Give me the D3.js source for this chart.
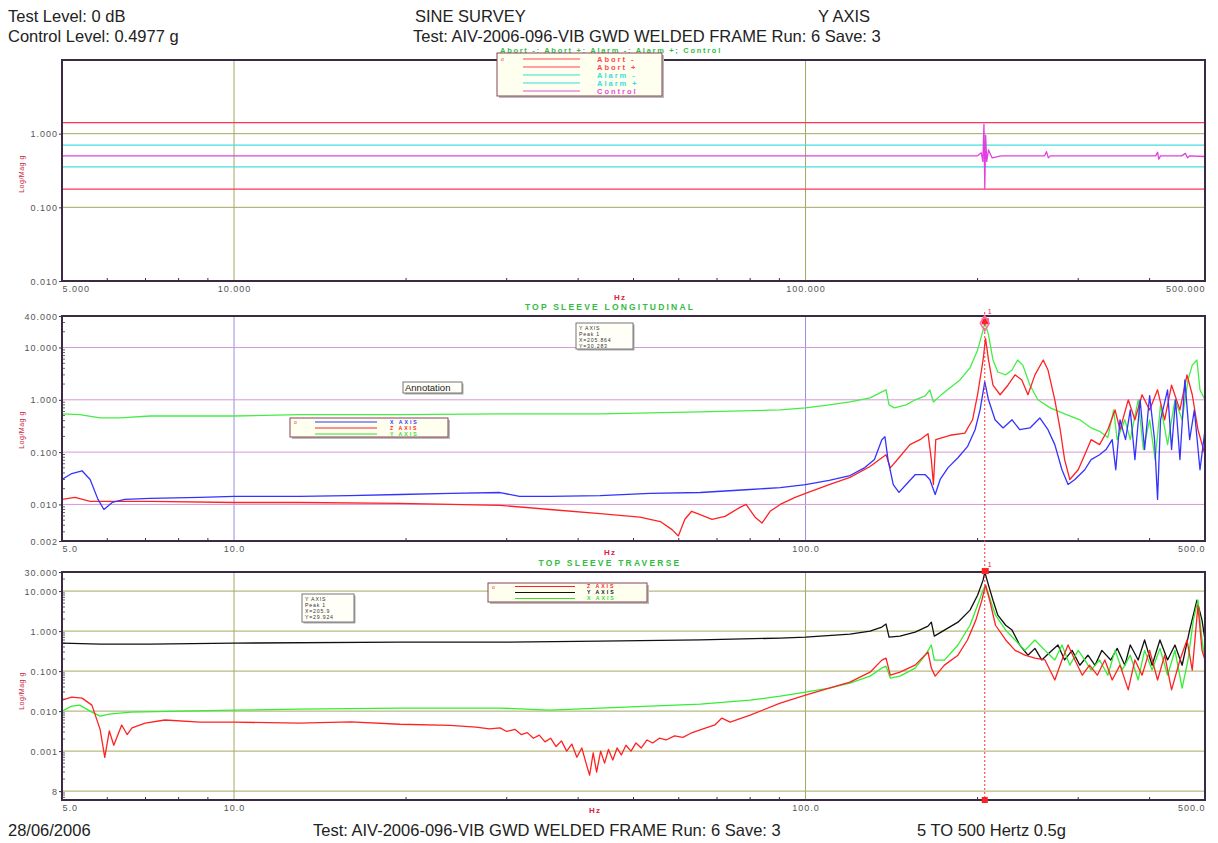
<!DOCTYPE html>
<html><head><meta charset="utf-8">
<script src="https://cdn.jsdelivr.net/npm/d3@7"></script>
<style>
body{margin:0;background:#fff}
text{font-family:"Liberation Sans",Arial,sans-serif}
.sm{font-size:9px;letter-spacing:1px;fill:#555}
</style>
</head><body>
<svg id="c" width="1218" height="843"></svg>
<script>
// ---- data: [frequency Hz, amplitude g] ----
const ctrlLimits = { abortPlus: 1.41, abortMinus: 0.177, alarmPlus: 0.70, alarmMinus: 0.355 };
const control = [[5,0.5],[20,0.5],[60,0.5],[100,0.5],[150,0.5],[200,0.5],[203,0.55],[204.3,0.42],[205.2,1.35],[205.9,0.18],[206.6,0.95],[207.5,0.42],[209,0.6],[212,0.47],[220,0.5],[262,0.5],[264,0.57],[266,0.47],[268,0.5],[410,0.5],[413,0.56],[415,0.45],[418,0.5],[455,0.5],[462,0.54],[466,0.47],[470,0.5],[500,0.49]];

const longX = [[5,0.030],[5.2,0.039],[5.42,0.044],[5.6,0.030],[5.78,0.0125],[5.92,0.008],[6.12,0.0109],[6.44,0.0125],[7.13,0.013],[8.72,0.0136],[10,0.0142],[13,0.0142],[15.9,0.0148],[19.5,0.0155],[23.9,0.0162],[29.2,0.0169],[31.6,0.0142],[35.7,0.0142],[43.7,0.0148],[53.4,0.0162],[65.4,0.0169],[80,0.0193],[90.3,0.021],[100,0.024],[110,0.0287],[119.6,0.0357],[127,0.0506],[132,0.072],[136,0.173],[137.7,0.198],[139.4,0.072],[142.4,0.024],[145.7,0.017],[150,0.024],[155.5,0.037],[162,0.037],[165,0.030],[168.6,0.0155],[172,0.030],[177.6,0.0506],[184.8,0.078],[192,0.127],[198,0.268],[202,0.64],[205.9,2.2],[209,1.0],[214.6,0.415],[221.6,0.29],[229.8,0.415],[237,0.268],[247,0.29],[257,0.45],[265.6,0.268],[273,0.139],[281,0.046],[288,0.024],[296,0.030],[308,0.046],[316,0.072],[327,0.089],[335.6,0.112],[344,0.173],[349,0.046],[355,0.415],[363,0.173],[370,0.64],[377,0.072],[385,1.0],[392,0.112],[400,1.2],[408,0.173],[413,0.0125],[418,0.415],[430,1.55],[437,0.112],[444,1.0],[452,0.072],[461,2.4],[470,0.173],[479,0.64],[490,0.046],[500,0.268]];

const longZ = [[5,0.0125],[5.27,0.0136],[5.6,0.0114],[6.07,0.0114],[7.13,0.0114],[10,0.0109],[13,0.0109],[19.5,0.0105],[23.9,0.010],[29.2,0.0096],[35.7,0.008],[43.7,0.0067],[51.3,0.0057],[55.7,0.0047],[58.4,0.0033],[59.9,0.0025],[61.5,0.0052],[63.2,0.0074],[65.4,0.0064],[68.6,0.0052],[72.3,0.0059],[76.8,0.0088],[78.7,0.010],[81.6,0.0057],[83.9,0.0044],[86.7,0.0074],[90.3,0.010],[95.9,0.0136],[100,0.0162],[110,0.024],[119.6,0.033],[129.7,0.053],[136,0.078],[138.3,0.089],[140.7,0.050],[145.7,0.078],[152.3,0.139],[158.6,0.173],[163.8,0.225],[166,0.072],[167.4,0.024],[169,0.173],[179,0.21],[190,0.23],[196,0.415],[200,1.25],[204.5,5.78],[206.5,15],[209,5.78],[212.8,1.9],[219,1.25],[226,1.9],[232.6,3.0],[239,2.4],[245,1.25],[252,3.0],[260.6,5.78],[265.6,3.72],[273,1.0],[279,0.268],[284,0.072],[290,0.030],[300,0.046],[308,0.089],[316,0.173],[327,0.139],[338,0.268],[348,0.64],[355,0.268],[367,1.0],[377,0.415],[388,1.25],[400,0.64],[413,1.55],[425,0.415],[437,1.9],[452,0.64],[465,3.0],[475,1.25],[486,0.268],[500,0.089]];

const longY = [[5,0.54],[5.37,0.52],[5.83,0.45],[6.32,0.45],[7.13,0.49],[8.72,0.49],[10,0.49],[13,0.52],[19.5,0.52],[29.2,0.54],[43.7,0.54],[65.4,0.59],[90.3,0.64],[100,0.70],[110,0.80],[119.6,0.91],[129.7,1.09],[136,1.42],[138.3,1.55],[140,0.80],[143,0.70],[150,0.80],[155.5,1.0],[162,1.19],[165,1.55],[167.4,0.91],[172,1.19],[179,1.7],[186.3,2.4],[194,4.1],[200,8.9],[204.5,21.5],[205.9,30.28],[209,17.4],[212.8,5.78],[217,3.4],[224,3.0],[229.8,3.72],[235,5.78],[240,4.6],[247,1.9],[255,1.0],[268,0.70],[284,0.54],[302,0.415],[316,0.29],[327,0.25],[338,0.19],[346,0.64],[351,0.173],[362,0.415],[370,0.173],[382,1.0],[390,0.112],[400,0.415],[409,0.072],[418,0.8],[430,0.139],[443,1.0],[456,0.415],[467,2.4],[475,4.6],[484,5.78],[490,1.55],[500,1.0]];

const travY = [[5,0.50],[5.83,0.47],[7.13,0.47],[10,0.50],[19.5,0.53],[29.2,0.53],[43.7,0.56],[65.4,0.60],[90.3,0.67],[100,0.71],[119.6,0.84],[129.7,1.0],[136,1.26],[138.3,1.5],[140,0.71],[146.3,0.75],[155.5,0.94],[163.8,1.33],[166,1.67],[168,0.75],[175,1.06],[184.8,1.67],[194,3.35],[200,7.9],[204.5,18.8],[205.9,29.92],[209,14.1],[212.8,5.9],[217,2.5],[224,1.4],[229.8,1.06],[237,0.45],[245,0.25],[252,0.37],[259,0.19],[268,0.30],[276.5,0.45],[284,0.19],[292.7,0.33],[302,0.14],[312,0.25],[321,0.14],[330,0.33],[342,0.19],[351,0.37],[362,0.14],[370,0.45],[382,0.19],[392,0.60],[404,0.14],[417,0.60],[430,0.19],[443,0.45],[456,0.14],[470,1.06],[484,5.9],[494,1.88],[500,0.6]];

const travZ = [[5,0.0188],[5.2,0.0224],[5.42,0.0211],[5.64,0.0141],[5.83,0.0035],[5.94,0.0007],[6.05,0.0032],[6.16,0.0014],[6.36,0.0045],[6.5,0.0026],[6.63,0.0038],[6.99,0.005],[7.57,0.006],[8.72,0.0053],[10,0.0053],[13,0.005],[16,0.0054],[19.5,0.0047],[23.9,0.0044],[26.5,0.004],[28,0.0036],[29.2,0.0038],[30,0.0031],[31,0.0035],[31.8,0.0026],[32.6,0.0029],[33.4,0.0021],[34.2,0.0025],[35,0.0017],[35.8,0.0021],[36.6,0.0013],[37.4,0.0018],[38.2,0.0010],[39,0.0015],[39.8,0.0007],[40.6,0.0012],[41.3,0.0005],[41.9,0.00025],[42.5,0.0009],[43.1,0.0003],[43.8,0.0010],[44.5,0.0005],[45.2,0.0011],[46,0.0006],[46.8,0.0012],[47.6,0.0008],[48.5,0.0014],[49.5,0.0010],[50.5,0.0016],[51.6,0.0012],[52.8,0.0019],[54,0.0016],[55.5,0.0021],[57,0.0019],[59,0.0024],[61,0.0022],[63,0.0028],[65.4,0.0034],[69.4,0.0045],[71.4,0.0067],[73.8,0.0053],[80,0.0079],[90.3,0.0159],[100,0.025],[110,0.0376],[119.6,0.053],[129.7,0.094],[136,0.188],[138.3,0.21],[140.7,0.079],[146.3,0.094],[155.5,0.141],[163.8,0.30],[166,0.119],[168.6,0.075],[175,0.141],[184.8,0.25],[192,0.6],[198.6,1.88],[203.5,5.9],[206.5,14],[210,5.9],[215,1.4],[224,0.6],[232.6,0.33],[242,0.25],[252,0.21],[262.4,0.19],[273,0.06],[281,0.19],[288,0.45],[296,0.19],[305,0.079],[314,0.141],[324,0.079],[334,0.19],[344,0.06],[355,0.141],[367,0.034],[377,0.19],[388,0.079],[400,0.33],[413,0.06],[425,0.25],[437,0.034],[452,0.19],[465,0.6],[475,0.106],[486,4.4],[494,0.33],[500,0.19]];

const travX = [[5,0.01],[5.2,0.0133],[5.37,0.0141],[5.64,0.0094],[5.83,0.0075],[6.05,0.0084],[6.6,0.0094],[8.1,0.01],[10,0.0106],[13,0.0112],[19.5,0.0119],[29.2,0.0119],[35.7,0.0106],[43.7,0.0119],[53.4,0.0133],[65.4,0.0149],[80,0.0188],[90.3,0.0237],[100,0.030],[110,0.0376],[119.6,0.05],[129.7,0.075],[136,0.119],[138.3,0.133],[140.7,0.067],[146.3,0.075],[155.5,0.119],[162,0.25],[166,0.45],[168,0.188],[175,0.188],[184.8,0.45],[194,1.4],[200,4.4],[204.5,10.6],[206.5,14],[210,6.7],[215,2.5],[224,1.06],[232.6,0.6],[242,0.33],[252,0.6],[262.4,0.33],[273,0.19],[281,0.45],[290,0.141],[300,0.33],[308,0.19],[316,0.106],[327,0.19],[338,0.079],[348,0.33],[358,0.106],[370,0.25],[382,0.06],[392,0.33],[404,0.106],[417,0.37],[430,0.079],[443,0.33],[456,0.0376],[467,0.19],[477,1.88],[486,5.9],[494,0.6],[500,0.19]];

const xTicks = [5, 10, 100, 500];
const xLabelsTop = ["5.000", "10.000", "100.000", "500.000"];
const xLabelsLow = ["5.0", "10.0", "100.0", "500.0"];
const yTicksTop = [0.01, 0.1, 1];
const yLabelsTop = ["0.010", "0.100", "1.000"];
const yTicksMid = [0.002, 0.01, 0.1, 1, 10, 40];
const yLabelsMid = ["0.002", "0.010", "0.100", "1.000", "10.000", "40.000"];
const yTicksBot = [0.0001, 0.001, 0.01, 0.1, 1, 10, 30];
const yLabelsBot = ["8", "0.001", "0.010", "0.100", "1.000", "10.000", "30.000"];
const peakFreq = 205.864;

// ---- drawing ----
const svg = d3.select("#c");
const X0 = 62, X1 = 1205;
const x = d3.scaleLog().domain([5, 500]).range([X0, X1]);
const minorF = [];
[1, 10, 100].forEach(d => [2,3,4,5,6,7,8,9].forEach(m => { const f = d*m; if (f > 5 && f < 500) minorF.push(f); }));

function header(t, xx, yy, anchor) {
  svg.append("text").attr("x", xx).attr("y", yy).attr("text-anchor", anchor || "start")
    .style("font-size", "16.5px").style("fill", "#222").text(t);
}
header("Test Level: 0 dB", 8, 22);
header("Control Level: 0.4977 g", 8, 42);
header("SINE SURVEY", 415, 22);
header("Test: AIV-2006-096-VIB GWD WELDED FRAME Run: 6 Save: 3", 413, 42);
header("Y AXIS", 818, 22);
header("28/06/2006", 8, 836);
header("Test: AIV-2006-096-VIB GWD WELDED FRAME Run: 6 Save: 3", 313, 836);
header("5 TO 500 Hertz 0.5g", 917, 836);

let clipId = 0;
function panel(cfg) {
  const y = d3.scaleLog().domain(cfg.yDomain).range([cfg.bottom, cfg.top]);
  const g = svg.append("g");
  const id = "clip" + (clipId++);
  g.append("clipPath").attr("id", id).append("rect")
    .attr("x", X0).attr("y", cfg.top).attr("width", X1 - X0).attr("height", cfg.bottom - cfg.top);

  // grid
  g.selectAll(".vg").data([10, 100]).join("line")
    .attr("x1", d => x(d)).attr("x2", d => x(d)).attr("y1", cfg.top).attr("y2", cfg.bottom)
    .attr("stroke", cfg.vGrid).attr("stroke-width", 1);
  g.selectAll(".hg").data(cfg.hGridVals).join("line")
    .attr("x1", X0).attr("x2", X1).attr("y1", d => y(d)).attr("y2", d => y(d))
    .attr("stroke", cfg.hGrid).attr("stroke-width", 1);

  // minor ticks
  g.selectAll(".mx").data(minorF).join("line")
    .attr("x1", d => x(d)).attr("x2", d => x(d)).attr("y1", cfg.bottom).attr("y2", cfg.bottom - 3)
    .attr("stroke", "#333");
  if (cfg.minorY) {
    g.selectAll(".my").data(cfg.minorY).join("line")
      .attr("x1", X0).attr("x2", X0 + 3).attr("y1", d => y(d)).attr("y2", d => y(d))
      .attr("stroke", "#666");
  }

  const plot = g.append("g").attr("clip-path", `url(#${id})`);
  const line = d3.line().x(d => x(d[0])).y(d => y(d[1]));
  (cfg.hLines || []).forEach(h => {
    plot.append("line").attr("x1", X0).attr("x2", X1).attr("y1", y(h.v)).attr("y2", y(h.v))
      .attr("stroke", h.color).attr("stroke-width", 1.2);
  });
  cfg.series.forEach(s => {
    plot.append("path").datum(s.data).attr("d", line).attr("fill", "none")
      .attr("stroke", s.color).attr("stroke-width", 1.3).attr("stroke-linejoin", "round");
  });

  // axes
  const yAxis = d3.axisLeft(y).tickValues(cfg.yTicks).tickSize(3)
    .tickFormat((d, i) => cfg.yLabels[i]);
  const ya = g.append("g").attr("transform", `translate(${X0},0)`).call(yAxis);
  ya.select(".domain").remove();
  ya.selectAll("line").attr("stroke", "#333");
  ya.selectAll("text").attr("class", "sm").attr("x", -4).attr("dy", "0.35em");

  const xa = g.append("g").attr("transform", `translate(0,${cfg.bottom})`)
    .call(d3.axisBottom(x).tickValues(xTicks).tickSize(0).tickFormat((d, i) => cfg.xLabels[i]));
  xa.select(".domain").remove();
  xa.selectAll("text").attr("class", "sm").attr("dy", "0.9em")
    .attr("text-anchor", (d, i) => i === 0 ? "start" : (i === xTicks.length - 1 ? "end" : "middle"));

  // frame
  g.append("rect").attr("x", X0).attr("y", cfg.top).attr("width", X1 - X0).attr("height", cfg.bottom - cfg.top)
    .attr("fill", "none").attr("stroke", "#3a2a44").attr("stroke-width", 2);

  // axis titles
  g.append("text").attr("transform", `translate(24,${cfg.yTitle}) rotate(-90)`).attr("text-anchor", "middle")
    .style("font-size", "7px").style("fill", "#cc2244").style("letter-spacing", "0.5px").text("Log/Mag g");
  g.append("text").attr("x", cfg.hzX).attr("y", cfg.hzY).attr("text-anchor", "middle")
    .style("font-size", "8px").style("font-weight", "bold").style("fill", "#dd2244").style("letter-spacing", "1px").text("Hz");
  if (cfg.title) {
    g.append("text").attr("x", cfg.titleX).attr("y", cfg.top - 6).attr("text-anchor", "middle")
      .style("font-size", "8.5px").style("font-weight", "bold").style("fill", "#33bb44").style("letter-spacing", "2.2px").text(cfg.title);
  }
  return y;
}

function decadeMinors(lo, hi) {
  const out = [];
  for (let e = -5; e < 2; e++) for (let m = 2; m <= 9; m++) { const v = m * Math.pow(10, e); if (v > lo && v < hi) out.push(v); }
  return out;
}

const yTop = panel({
  top: 60, bottom: 281, yDomain: [0.01, 10], yTicks: yTicksTop, yLabels: yLabelsTop, xLabels: xLabelsTop,
  vGrid: "#a8a860", hGrid: "#a8a860", hGridVals: [0.1, 1], yTitle: 174, hzX: 620, hzY: 300,
  hLines: [
    { v: ctrlLimits.abortPlus, color: "#ff3355" }, { v: ctrlLimits.abortMinus, color: "#ff3355" },
    { v: ctrlLimits.alarmPlus, color: "#44dddd" }, { v: ctrlLimits.alarmMinus, color: "#44dddd" }],
  series: [{ data: control, color: "#e040e0" }]
});

const yMid = panel({
  top: 316, bottom: 541, yDomain: [0.002, 40], yTicks: yTicksMid, yLabels: yLabelsMid, xLabels: xLabelsLow,
  vGrid: "#9a8ee0", hGrid: "#d898d8", hGridVals: [0.01, 0.1, 1, 10], yTitle: 430, hzX: 610, hzY: 555,
  minorY: decadeMinors(0.002, 40), title: "TOP SLEEVE LONGITUDINAL", titleX: 610,
  series: [{ data: longY, color: "#44ee44" }, { data: longZ, color: "#ff2222" }, { data: longX, color: "#3333ff" }]
});

const yBot = panel({
  top: 572, bottom: 800, yDomain: [6e-5, 30], yTicks: yTicksBot, yLabels: yLabelsBot, xLabels: xLabelsLow,
  vGrid: "#a8a860", hGrid: "#a8a860", hGridVals: [0.0001, 0.001, 0.01, 0.1, 1, 10], yTitle: 691, hzX: 595, hzY: 813,
  minorY: decadeMinors(6e-5, 30), title: "TOP SLEEVE TRAVERSE", titleX: 610,
  series: [{ data: travY, color: "#111111" }, { data: travX, color: "#33ee33" }, { data: travZ, color: "#ff2222" }]
});

// peak cursor through the lower two panels
const px = x(peakFreq);
svg.append("line").attr("x1", px).attr("x2", px).attr("y1", 312).attr("y2", 800)
  .attr("stroke", "#ff3333").attr("stroke-width", 1).attr("stroke-dasharray", "2,2");
[[yMid, 30.283, 314], [yBot, 29.924, 567]].forEach(([yy, v, ty]) => {
  svg.append("rect").attr("x", px - 3).attr("y", yy(v) - 4).attr("width", 7).attr("height", 6).attr("fill", "#ff2222");
  svg.append("text").attr("x", px + 3).attr("y", ty).style("font-size", "7px").style("fill", "#dd2244").text("1");
});
svg.append("path").attr("d", d3.symbol(d3.symbolDiamond, 70)()).attr("transform", `translate(${px},${yMid(30.283)+1})`)
  .attr("fill", "none").attr("stroke", "#ff66aa").attr("stroke-width", 1.5);
svg.append("rect").attr("x", px - 3).attr("y", 797).attr("width", 6).attr("height", 6).attr("fill", "#ff2222");

// legends
function legend(bx, by, bw, bh, rows, rowY0, dy, sx0, sx1, tx, fs, ls) {
  svg.append("rect").attr("x", bx + 2).attr("y", by + 2).attr("width", bw).attr("height", bh).attr("fill", "#bbb");
  svg.append("rect").attr("x", bx).attr("y", by).attr("width", bw).attr("height", bh)
    .attr("fill", "#fffff0").attr("stroke", "#884455").attr("stroke-width", 1);
  rows.forEach((r, i) => {
    const yy = rowY0 + i * dy;
    svg.append("line").attr("x1", sx0).attr("x2", sx1).attr("y1", yy).attr("y2", yy).attr("stroke", r.color).attr("stroke-width", 1.2);
    svg.append("text").attr("x", tx).attr("y", yy + fs * 0.36).style("font-size", fs + "px").style("font-weight", "bold")
      .style("letter-spacing", ls + "px").style("fill", r.color).text(r.label);
  });
  svg.append("text").attr("x", bx + 4).attr("y", rowY0 + 2).style("font-size", "5px").style("fill", "#ee3344").text("o");
}
svg.append("text").attr("x", 611).attr("y", 52.5).attr("text-anchor", "middle").style("font-size", "7.5px")
  .style("font-weight", "bold").style("letter-spacing", "1.7px").style("fill", "#33bb44")
  .text("Abort -; Abort +; Alarm -; Alarm +; Control");
legend(497, 53, 165, 43, [
  { label: "Abort -", color: "#ff4455" }, { label: "Abort +", color: "#ff4455" },
  { label: "Alarm -", color: "#33dddd" }, { label: "Alarm +", color: "#33dddd" }, { label: "Control", color: "#e050e0" }],
  59, 8, 523, 580, 597, 7.5, 2);
legend(290, 418, 158, 19, [
  { label: "X AXIS", color: "#3333ff" }, { label: "Z AXIS", color: "#ff2222" }, { label: "Y AXIS", color: "#33dd33" }],
  422, 6, 315, 377, 390, 5.2, 2);
legend(488, 583, 159, 19, [
  { label: "Z AXIS", color: "#ff2222" }, { label: "Y AXIS", color: "#111111" }, { label: "X AXIS", color: "#33dd33" }],
  586.5, 6, 515, 575, 587, 5.2, 2);

// annotation and peak read-outs
function box(bx, by, bw, bh, lines, fs) {
  svg.append("rect").attr("x", bx + 1.5).attr("y", by + 1.5).attr("width", bw).attr("height", bh).attr("fill", "#aaa");
  svg.append("rect").attr("x", bx).attr("y", by).attr("width", bw).attr("height", bh)
    .attr("fill", "#fffff8").attr("stroke", "#777").attr("stroke-width", 1);
  lines.forEach((t, i) => svg.append("text").attr("x", bx + 3).attr("y", by + 7 + i * 6)
    .style("font-size", fs + "px").style("letter-spacing", "0.8px").style("fill", "#333").text(t));
}
box(403, 382, 59, 11, [], 8);
svg.append("text").attr("x", 405).attr("y", 391).style("font-size", "9.5px").style("fill", "#222").text("Annotation");
box(576, 323, 57, 26, ["Y AXIS", "Peak 1", "X=205.864", "Y=30.283"], 5.2);
box(302, 594, 52, 28, ["Y AXIS", "Peak 1", "X=205.9", "Y=29.924"], 5.2);
</script>
</body></html>
